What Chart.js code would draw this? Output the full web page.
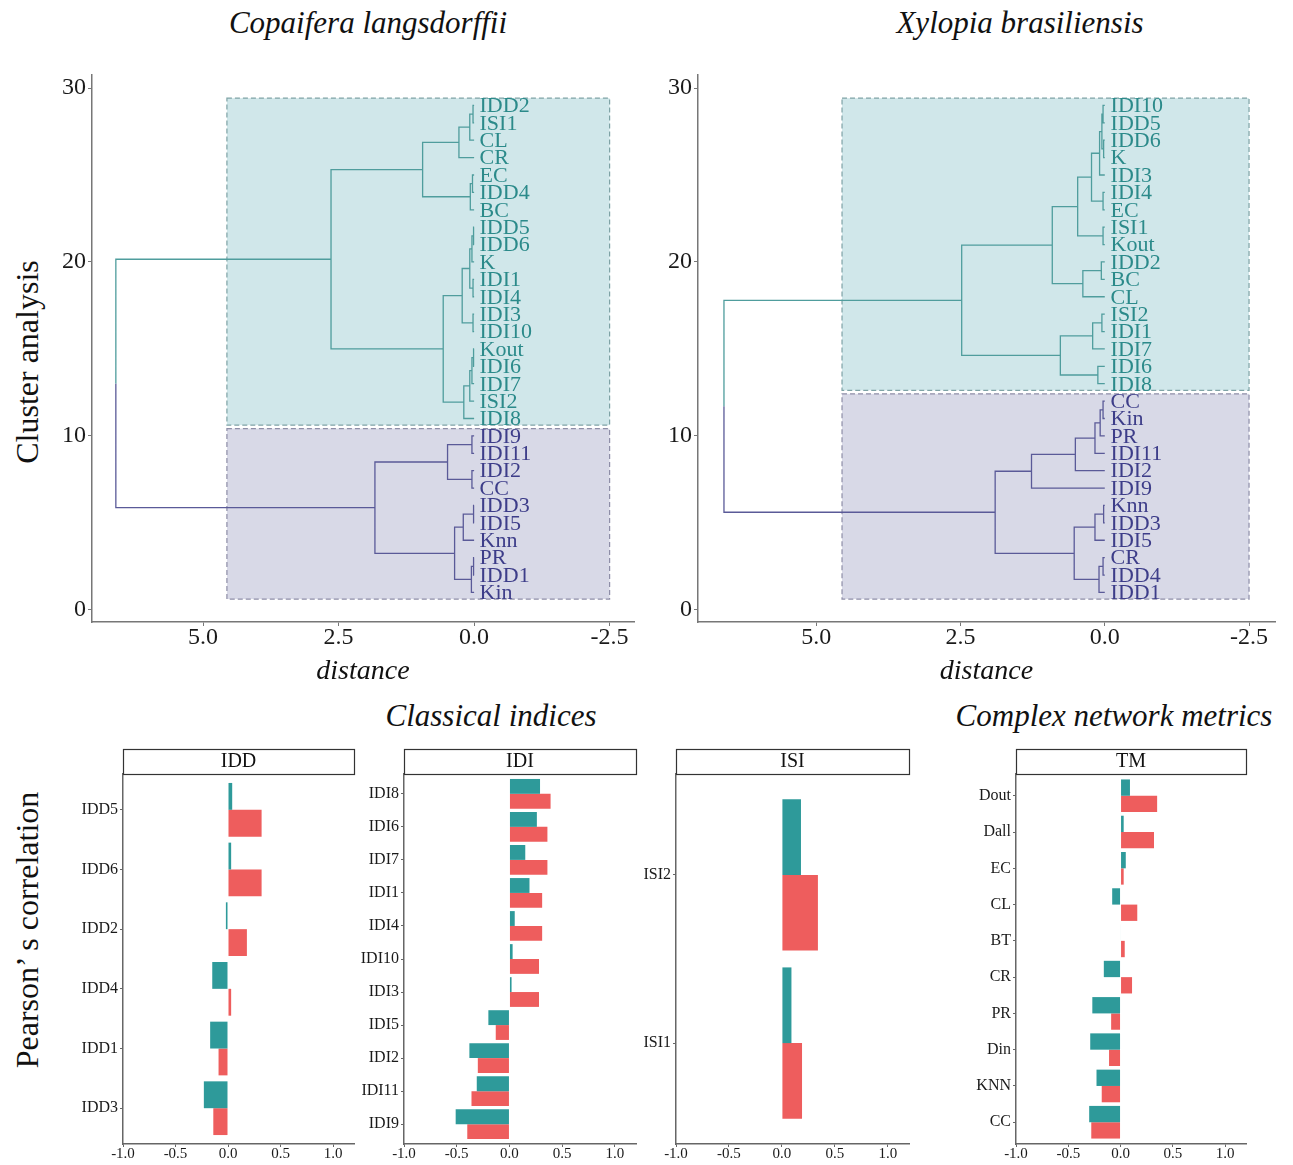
<!DOCTYPE html>
<html>
<head>
<meta charset="utf-8">
<title>Cluster analysis and Pearson's correlation</title>
<script src="https://cdn.jsdelivr.net/npm/chart.js@4.4.1/dist/chart.umd.min.js"></script>
<style>
  body { margin: 0; background: #fff; }
  #fig { position: relative; width: 1293px; height: 1165px; overflow: hidden;
         font-family: 'Liberation Serif', 'Times New Roman', serif; color: #111; }
  #fig canvas { position: absolute; }
  .lbl { position: absolute; white-space: nowrap; line-height: 1; transform: translate(-50%, -50%); }
  .it { font-style: italic; font-size: 31px; }
  .rot { font-size: 32px; transform: translate(-50%, -50%) rotate(-90deg); }
</style>
</head>
<body>
<div id="fig">
  <div class="lbl it" style="left:368px; top:22px">Copaifera langsdorffii</div>
  <div class="lbl it" style="left:1020px; top:22px">Xylopia brasiliensis</div>
  <div class="lbl rot" style="left:27px; top:362px">Cluster analysis</div>
  <div class="lbl it" style="left:491px; top:715px">Classical indices</div>
  <div class="lbl it" style="left:1114px; top:715px">Complex network metrics</div>
  <div class="lbl rot" style="left:27px; top:930px">Pearson’ s correlation</div>

  <canvas id="dendroCopa" width="650" height="700" style="left:0; top:0"></canvas>
  <canvas id="dendroXylo" width="655" height="700" style="left:638px; top:0"></canvas>
  <canvas id="barIDD" width="330" height="425" style="left:40px; top:740px"></canvas>
  <canvas id="barIDI" width="312" height="425" style="left:340px; top:740px"></canvas>
  <canvas id="barISI" width="285" height="425" style="left:640px; top:740px"></canvas>
  <canvas id="barTM" width="343" height="425" style="left:950px; top:740px"></canvas>
</div>
<script>
// Dendrograms: hclust-style merge rows (negative = leaf number, positive = earlier row)
const copaLeaves = ['IDD2', 'ISI1', 'CL', 'CR', 'EC', 'IDD4', 'BC', 'IDD5', 'IDD6', 'K',
  'IDI1', 'IDI4', 'IDI3', 'IDI10', 'Kout', 'IDI6', 'IDI7', 'ISI2', 'IDI8', 'IDI9',
  'IDI11', 'IDI2', 'CC', 'IDD3', 'IDI5', 'Knn', 'PR', 'IDD1', 'Kin'];
const copaMerge = [[-1, -2], [1, -3], [2, -4], [-5, -6], [4, -7], [3, 5],
  [-8, -9], [7, -10], [-11, -12], [8, 9], [-13, -14], [10, 11],
  [-15, -16], [13, -17], [14, -18], [15, -19], [12, 16], [6, 17],
  [-20, -21], [-22, -23], [19, 20], [-24, -25], [22, -26], [-27, -28], [24, -29],
  [23, 25], [21, 26], [18, 27]];
const copaHeight = [0.02, 0.08, 0.28, 0.03, 0.07, 0.95,
  0.01, 0.04, 0.02, 0.08, 0.02, 0.22,
  0.01, 0.04, 0.08, 0.19, 0.57, 2.64,
  0.04, 0.04, 0.49, 0.01, 0.2, 0.01, 0.05,
  0.36, 1.83, 6.61];

const xyloLeaves = ['IDI10', 'IDD5', 'IDD6', 'K', 'IDI3', 'IDI4', 'EC', 'ISI1', 'Kout', 'IDD2',
  'BC', 'CL', 'ISI2', 'IDI1', 'IDI7', 'IDI6', 'IDI8', 'CC', 'Kin', 'PR',
  'IDI11', 'IDI2', 'IDI9', 'Knn', 'IDD3', 'IDI5', 'CR', 'IDD4', 'IDD1'];
const xyloMerge = [[-1, -2], [-3, -4], [1, 2], [3, -5], [-6, -7], [4, 5],
  [-8, -9], [6, 7], [-10, -11], [9, -12], [8, 10],
  [-13, -14], [12, -15], [-16, -17], [13, 14], [11, 15],
  [-18, -19], [17, -20], [18, -21], [19, -22], [20, -23],
  [-24, -25], [22, -26], [-27, -28], [24, -29], [23, 25], [21, 26], [16, 27]];
const xyloHeight = [0.03, 0.02, 0.05, 0.09, 0.03, 0.23,
  0.03, 0.47, 0.06, 0.38, 0.91,
  0.05, 0.21, 0.12, 0.77, 2.48,
  0.03, 0.08, 0.17, 0.51, 1.27,
  0.02, 0.17, 0.03, 0.1, 0.53, 1.9, 6.6];

const dendroTicksX = [5.0, 2.5, 0.0, -2.5];
const dendroTicksY = [0, 10, 20, 30];

// Pearson's correlation per index, two series per index
const iddLabels = ['IDD5', 'IDD6', 'IDD2', 'IDD4', 'IDD1', 'IDD3'];
const iddTeal = [0.04, 0.03, -0.02, -0.15, -0.17, -0.23];
const iddRed = [0.32, 0.32, 0.18, 0.03, -0.09, -0.14];

const idiLabels = ['IDI8', 'IDI6', 'IDI7', 'IDI1', 'IDI4', 'IDI10', 'IDI3', 'IDI5', 'IDI2', 'IDI11', 'IDI9'];
const idiTeal = [0.29, 0.26, 0.15, 0.19, 0.05, 0.03, 0.02, -0.2, -0.38, -0.31, -0.51];
const idiRed = [0.39, 0.36, 0.36, 0.31, 0.31, 0.28, 0.28, -0.13, -0.3, -0.36, -0.4];

const isiLabels = ['ISI2', 'ISI1'];
const isiTeal = [0.18, 0.09];
const isiRed = [0.34, 0.19];

const tmLabels = ['Dout', 'Dall', 'EC', 'CL', 'BT', 'CR', 'PR', 'Din', 'KNN', 'CC'];
const tmTeal = [0.09, 0.03, 0.05, -0.08, -0.005, -0.16, -0.27, -0.29, -0.23, -0.3];
const tmRed = [0.35, 0.32, 0.03, 0.16, 0.04, 0.11, -0.09, -0.11, -0.18, -0.28];

const barTicksX = [-1.0, -0.5, 0.0, 0.5, 1.0];

const serif = "'Liberation Serif', 'Times New Roman', serif";
Chart.defaults.font.family = serif;
Chart.defaults.color = '#1a1a1a';
Chart.defaults.animation = false;

const clusterStyle = [
  { line: '#4f9d9d', text: '#2b8a8a', fill: '#d0e7ea', edge: '#7fa3a6' },
  { line: '#5a5a98', text: '#3d3d89', fill: '#d8d9e7', edge: '#8e8ea8' }
];

function buildTree(leaves, merge, height) {
  const n = leaves.length;
  const nodes = [];
  const info = ref => ref < 0
    ? { y: n + ref + 1, h: 0, leaves: [-ref - 1] }
    : nodes[ref - 1];
  merge.forEach((pair, r) => {
    const a = info(pair[0]), b = info(pair[1]);
    nodes.push({ y: (a.y + b.y) / 2, h: height[r], leaves: a.leaves.concat(b.leaves), kids: [a, b] });
  });
  return nodes[nodes.length - 1];
}

// elbow from each child up to its parent, with a gap point between links
function link(node, child, pts) {
  pts.push({ x: child.h, y: child.y }, { x: node.h, y: child.y },
           { x: node.h, y: node.y }, { x: null, y: null });
}
function collect(node, pts) {
  if (!node.kids) return;
  node.kids.forEach(c => { link(node, c, pts); collect(c, pts); });
}

function drawDendro(id, leaves, merge, height, yWidth, padRight) {
  const n = leaves.length;
  const root = buildTree(leaves, merge, height);
  const groups = root.kids.slice().sort((a, b) => b.y - a.y);

  const datasets = groups.map((g, k) => {
    const pts = [];
    link(root, g, pts);
    collect(g, pts);
    return {
      data: pts, showLine: true, spanGaps: false,
      borderColor: clusterStyle[k].line, borderWidth: 1.3,
      pointRadius: 0, pointHoverRadius: 0
    };
  });

  const clusterRects = {
    id: 'clusterRects',
    beforeDatasetsDraw(chart) {
      const { ctx, scales: { x, y } } = chart;
      groups.forEach((g, k) => {
        const ys = g.leaves.map(i => n - i);
        const top = y.getPixelForValue(Math.max(...ys) + 0.42);
        const bot = y.getPixelForValue(Math.min(...ys) - 0.38);
        const left = x.getPixelForValue(root.h * 0.69);
        const right = x.getPixelForValue(-2.5);
        ctx.save();
        ctx.fillStyle = clusterStyle[k].fill;
        ctx.fillRect(left, top, right - left, bot - top);
        ctx.setLineDash([5, 3]);
        ctx.strokeStyle = clusterStyle[k].edge;
        ctx.lineWidth = 1.2;
        ctx.strokeRect(left, top, right - left, bot - top);
        ctx.restore();
      });
    },
    afterDatasetsDraw(chart) {
      const { ctx, scales: { x, y } } = chart;
      ctx.save();
      ctx.font = '22px ' + serif;
      ctx.textAlign = 'left';
      ctx.textBaseline = 'middle';
      groups.forEach((g, k) => {
        ctx.fillStyle = clusterStyle[k].text;
        g.leaves.forEach(i => {
          ctx.fillText(leaves[i], x.getPixelForValue(-0.1), y.getPixelForValue(n - i) + 1);
        });
      });
      ctx.restore();
    }
  };

  const axisFont = { family: serif, size: 24, lineHeight: 1 };
  new Chart(document.getElementById(id), {
    type: 'scatter',
    data: { datasets },
    options: {
      responsive: false,
      layout: { padding: { top: 75, right: padRight, left: 0, bottom: 0 } },
      plugins: { legend: { display: false }, tooltip: { enabled: false } },
      scales: {
        x: {
          type: 'linear', reverse: true, min: -2.95, max: 7.05,
          afterBuildTicks: s => { s.ticks = dendroTicksX.map(v => ({ value: v })); },
          afterFit: s => { s.height = 78; },
          ticks: { callback: v => v.toFixed(1), font: axisFont, color: '#1a1a1a', padding: 0, autoSkip: false, maxRotation: 0 },
          grid: { drawOnChartArea: false, drawTicks: true, tickLength: 4, color: '#777' },
          border: { display: true, color: '#777', width: 1.5 },
          title: { display: true, text: 'distance', color: '#111',
                   font: { family: serif, size: 28, style: 'italic', lineHeight: 1.2 },
                   padding: { top: 0, bottom: 12 } }
        },
        y: {
          type: 'linear', min: -0.7, max: 30.75,
          afterBuildTicks: s => { s.ticks = dendroTicksY.map(v => ({ value: v })); },
          afterFit: s => { s.width = yWidth; },
          ticks: { font: axisFont, color: '#1a1a1a', padding: 2, autoSkip: false },
          grid: { drawOnChartArea: false, drawTicks: true, tickLength: 4, color: '#777' },
          border: { display: true, color: '#777', width: 1.5 }
        }
      }
    },
    plugins: [clusterRects]
  });
}

const stripPlugin = {
  id: 'strip',
  afterDraw(chart, args, opts) {
    const { ctx, chartArea: a } = chart;
    ctx.save();
    ctx.fillStyle = '#fff';
    ctx.fillRect(a.left, a.top - 25, a.right - a.left, 25);
    ctx.strokeStyle = '#333';
    ctx.lineWidth = 1.2;
    ctx.strokeRect(a.left + 0.5, a.top - 25 + 0.5, a.right - a.left, 25);
    ctx.font = '20px ' + serif;
    ctx.fillStyle = '#111';
    ctx.textAlign = 'center';
    ctx.textBaseline = 'middle';
    ctx.fillText(opts.text, (a.left + a.right) / 2, a.top - 12);
    ctx.restore();
  }
};

function drawBars(id, title, labels, tealVals, redVals, yWidth, padRight) {
  const bar = { categoryPercentage: 0.9, barPercentage: 1.0, borderWidth: 0 };
  new Chart(document.getElementById(id), {
    type: 'bar',
    data: {
      datasets: [
        Object.assign({ label: 'Xylopia brasiliensis', backgroundColor: '#2e9a9a',
          data: tealVals.map((v, i) => ({ x: v, y: i })) }, bar),
        Object.assign({ label: 'Copaifera langsdorffii', backgroundColor: '#ee5d5d',
          data: redVals.map((v, i) => ({ x: v, y: i })) }, bar)
      ]
    },
    options: {
      indexAxis: 'y',
      responsive: false,
      layout: { padding: { top: 34, right: padRight, left: 0, bottom: 0 } },
      plugins: { legend: { display: false }, tooltip: { enabled: false }, strip: { text: title } },
      scales: {
        x: {
          type: 'linear', min: -1, max: 1.2,
          afterBuildTicks: s => { s.ticks = barTicksX.map(v => ({ value: v })); },
          afterFit: s => { s.height = 21; },
          ticks: { callback: v => v.toFixed(1), font: { size: 15, lineHeight: 1 }, color: '#1a1a1a', padding: 0, autoSkip: false, maxRotation: 0 },
          grid: { drawOnChartArea: false, drawTicks: true, tickLength: 3, color: '#666' },
          border: { display: true, color: '#666', width: 1.5 }
        },
        y: {
          type: 'linear', reverse: true, offset: false, min: -0.6, max: labels.length - 0.4,
          afterBuildTicks: s => { s.ticks = labels.map((_, i) => ({ value: i })); },
          afterFit: s => { s.width = yWidth; },
          ticks: { callback: v => labels[v], font: { size: 16, lineHeight: 1 }, color: '#1a1a1a', padding: 2, autoSkip: false },
          grid: { offset: false, drawOnChartArea: false, drawTicks: true, tickLength: 3, color: '#666' },
          border: { display: true, color: '#666', width: 1.5 }
        }
      }
    },
    plugins: [stripPlugin]
  });
}

drawDendro('dendroCopa', copaLeaves, copaMerge, copaHeight, 92, 16);
drawDendro('dendroXylo', xyloLeaves, xyloMerge, xyloHeight, 60, 18);

drawBars('barIDD', 'IDD', iddLabels, iddTeal, iddRed, 83, 16);
drawBars('barIDI', 'IDI', idiLabels, idiTeal, idiRed, 64, 16);
drawBars('barISI', 'ISI', isiLabels, isiTeal, isiRed, 36, 16);
drawBars('barTM', 'TM', tmLabels, tmTeal, tmRed, 66, 47);
</script>
</body>
</html>
